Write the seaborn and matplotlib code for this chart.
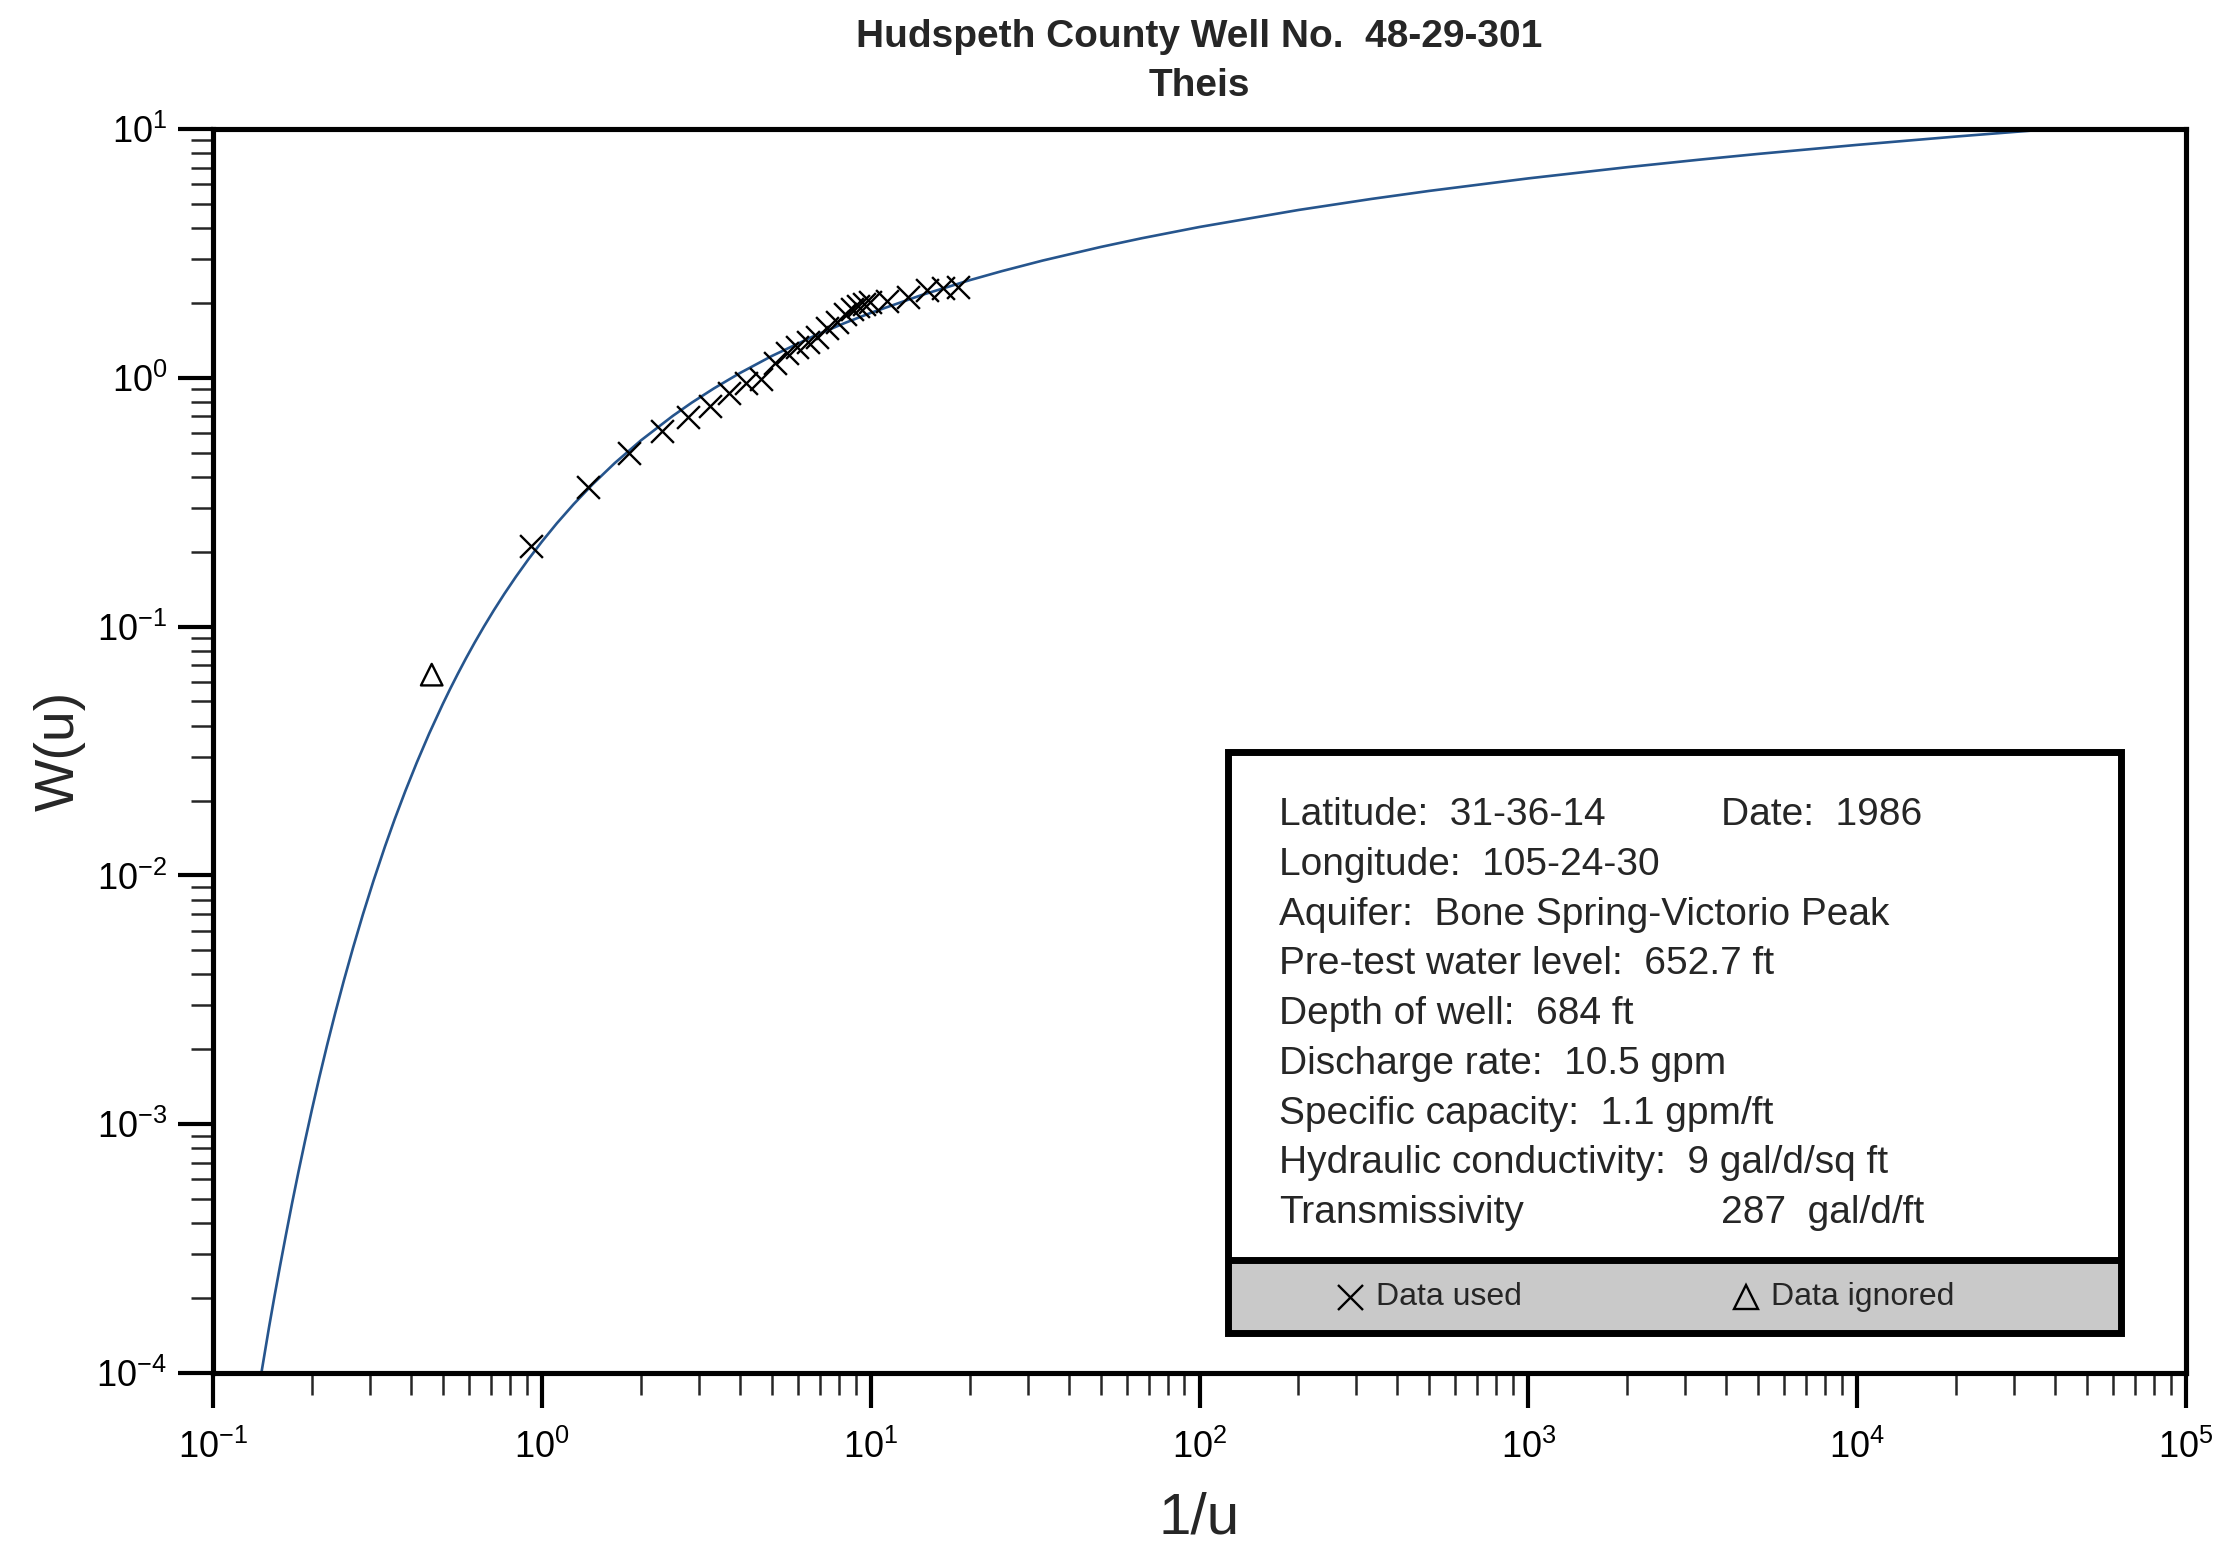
import numpy as np
import pandas as pd
import matplotlib
matplotlib.use("Agg")
import matplotlib.pyplot as plt
from matplotlib.ticker import FixedLocator, FuncFormatter, NullFormatter
from matplotlib.patches import Rectangle
import seaborn as sns

# ---- data ----
# Theis type curve (1/u, W(u))
curve_inv_u = [0.1333, 0.1379, 0.1429, 0.1481, 0.1538, 0.16, 0.1667, 0.1739, 0.1818,
               0.1905, 0.2, 0.2105, 0.2222, 0.2353, 0.25, 0.2667, 0.2857, 0.3077,
               0.3333, 0.3571, 0.3846, 0.4167, 0.4545, 0.5, 0.5263, 0.5556, 0.5882,
               0.625, 0.6667, 0.7143, 0.7692, 0.8333, 0.9091, 1.0, 1.111, 1.25,
               1.4286, 1.6667, 2.0, 2.5, 2.857, 3.333, 4.0, 5.0, 6.667, 8.333, 10.0,
               14.29, 20.0, 25.0, 33.33, 50.0, 66.67, 100.0, 200.0, 333.3, 500.0,
               1000.0, 2000.0, 3333.0, 5000.0, 10000.0, 20000.0, 33333.0, 40000.0]
curve_w = [6.58e-5, 8.715e-5, 1.155e-4, 1.532e-4, 2.034e-4, 2.705e-4, 3.601e-4,
           4.801e-4, 6.409e-4, 8.572e-4, 1.148e-3, 1.541e-3, 2.073e-3, 2.796e-3,
           3.779e-3, 5.125e-3, 6.970e-3, 9.519e-3, 1.305e-2, 1.686e-2, 2.185e-2,
           2.844e-2, 3.719e-2, 4.890e-2, 5.620e-2, 6.471e-2, 7.465e-2, 8.631e-2,
           0.10002, 0.11622, 0.13545, 0.15841, 0.18599, 0.21938, 0.26018, 0.31060,
           0.37377, 0.45438, 0.55977, 0.70238, 0.79450, 0.90568, 1.04427, 1.22265,
           1.46446, 1.65953, 1.82292, 2.15084, 2.46790, 2.68126, 2.95912, 3.35471,
           3.63743, 4.03793, 4.72610, 5.23492, 5.63939, 6.33154, 7.02418, 7.53481,
           7.94018, 8.63307, 9.32622, 9.83712, 10.01948]

used_inv_u = [0.927, 1.382, 1.842, 2.321, 2.784, 3.248, 3.710, 4.178, 4.642, 5.119,
              5.568, 5.974, 6.450, 6.871, 7.369, 7.903, 8.356, 8.779, 9.157, 9.548,
              9.958, 11.22, 12.99, 14.84, 16.61, 18.45]
used_w = [0.210, 0.365, 0.500, 0.613, 0.697, 0.772, 0.871, 0.955, 0.991, 1.149,
          1.260, 1.332, 1.395, 1.461, 1.588, 1.679, 1.807, 1.893, 1.946, 1.983,
          2.020, 2.038, 2.115, 2.256, 2.290, 2.310]

ignored_inv_u = [0.4625]
ignored_w = [0.0641]

x_decades = [-1, 0, 1, 2, 3, 4, 5]
y_decades = [-4, -3, -2, -1, 0, 1]

title_lines = ["Hudspeth County Well No.  48-29-301", "Theis"]
info_rows = [
    ("Latitude:  31-36-14", "Date:  1986"),
    ("Longitude:  105-24-30", ""),
    ("Aquifer:  Bone Spring-Victorio Peak", ""),
    ("Pre-test water level:  652.7 ft", ""),
    ("Depth of well:  684 ft", ""),
    ("Discharge rate:  10.5 gpm", ""),
    ("Specific capacity:  1.1 gpm/ft", ""),
    ("Hydraulic conductivity:  9 gal/d/sq ft", ""),
    ("Transmissivity", "287  gal/d/ft"),
]

# ---- style ----
sns.set_style("ticks")
plt.rcParams["font.family"] = ["Liberation Sans", "DejaVu Sans"]
plt.rcParams["mathtext.fontset"] = "custom"
plt.rcParams["mathtext.rm"] = "Liberation Sans"
plt.rcParams["mathtext.it"] = "Liberation Sans:italic"
plt.rcParams["mathtext.bf"] = "Liberation Sans:bold"

W, H = 2229, 1551
fig = plt.figure(figsize=(W / 100, H / 100), dpi=100)
L, R, T, B = 213, 2186, 129, 1373
ax = fig.add_axes([L / W, 1 - B / H, (R - L) / W, (B - T) / H])

curve_df = pd.DataFrame({"inv_u": curve_inv_u, "W": curve_w})
used_df = pd.DataFrame({"inv_u": used_inv_u, "W": used_w})
ign_df = pd.DataFrame({"inv_u": ignored_inv_u, "W": ignored_w})

sns.lineplot(data=curve_df, x="inv_u", y="W", ax=ax, color="#26558d", linewidth=1.9,
             sort=False, estimator=None)
sns.scatterplot(data=used_df, x="inv_u", y="W", ax=ax, marker="x", s=270,
                color="black", linewidth=1.7, zorder=3)
sns.scatterplot(data=ign_df, x="inv_u", y="W", ax=ax, marker="^", s=240,
                facecolors="none", edgecolor="black", linewidth=1.7, zorder=3)

ax.set_xscale("log")
ax.set_yscale("log")
ax.set_xlim(0.1, 1e5)
ax.set_ylim(1e-4, 10)


def major_minor(decades):
    major = [10.0 ** d for d in decades]
    minor = [m * 10.0 ** d for d in decades[:-1] for m in range(2, 10)]
    return major, minor


fmt = FuncFormatter(lambda v, p: r"$\mathregular{10^{%d}}$" % int(round(np.log10(v))))
for axis, dec in ((ax.xaxis, x_decades), (ax.yaxis, y_decades)):
    mj, mn = major_minor(dec)
    axis.set_major_locator(FixedLocator(mj))
    axis.set_minor_locator(FixedLocator(mn))
    axis.set_major_formatter(fmt)
    axis.set_minor_formatter(NullFormatter())

ax.tick_params(which="major", direction="out", length=25, width=3, labelsize=26,
               colors="black", top=False, right=False)
ax.tick_params(which="minor", direction="out", length=16, width=1.8,
               top=False, right=False)
ax.tick_params(axis="x", which="major", pad=16)
ax.tick_params(axis="y", which="major", pad=8)

for sp in ax.spines.values():
    sp.set_visible(True)
    sp.set_linewidth(3.7)
    sp.set_color("black")

ax.set_xlabel("1/u", fontsize=42, labelpad=18)
ax.set_ylabel("W(u)", fontsize=40, labelpad=8)

# title
fig.text(1199.5 / W, 1 - 37 / H, title_lines[0], ha="center", va="center",
         fontsize=28, fontweight="bold")
fig.text(1199.5 / W, 1 - 86 / H, title_lines[1], ha="center", va="center",
         fontsize=28, fontweight="bold")

# info box (axes fraction coordinates)
def ax_x(px):
    return (px - L) / (R - L)

def ax_y(py):
    return (B - py) / (B - T)

bx0, bx1, by_top, by_bot, by_band = 1228, 2121, 752, 1333, 1260
ax.add_patch(Rectangle((ax_x(bx0), ax_y(by_bot)), ax_x(bx1) - ax_x(bx0),
                       ax_y(by_band) - ax_y(by_bot), transform=ax.transAxes,
                       facecolor="#c9c9c9", edgecolor="none", zorder=4, clip_on=False))
ax.add_patch(Rectangle((ax_x(bx0), ax_y(by_band)), ax_x(bx1) - ax_x(bx0),
                       ax_y(by_top) - ax_y(by_band), transform=ax.transAxes,
                       facecolor="white", edgecolor="none", zorder=4, clip_on=False))
ax.add_patch(Rectangle((ax_x(bx0), ax_y(by_bot)), ax_x(bx1) - ax_x(bx0),
                       ax_y(by_top) - ax_y(by_bot), transform=ax.transAxes,
                       facecolor="none", edgecolor="black", linewidth=5, zorder=6,
                       clip_on=False))
ax.plot([ax_x(bx0), ax_x(bx1)], [ax_y(by_band), ax_y(by_band)], transform=ax.transAxes,
        color="black", linewidth=5, zorder=6, clip_on=False, solid_capstyle="butt")

row_y0, row_dy = 815, 49.76
for i, (left_txt, right_txt) in enumerate(info_rows):
    yy = ax_y(row_y0 + i * row_dy)
    ax.text(ax_x(1279), yy, left_txt, transform=ax.transAxes, ha="left",
            va="center", fontsize=28, zorder=7)
    if right_txt:
        ax.text(ax_x(1721), yy, right_txt, transform=ax.transAxes, ha="left",
                va="center", fontsize=28, zorder=7)

leg_y = ax_y(1297)
ax.plot([ax_x(1350)], [leg_y], transform=ax.transAxes, marker="x", markersize=18,
        markeredgewidth=1.7, color="black", linestyle="none", zorder=7, clip_on=False)
ax.text(ax_x(1376), leg_y, "Data used", transform=ax.transAxes, ha="left",
        va="center", fontsize=23, zorder=7)
ax.plot([ax_x(1746)], [leg_y], transform=ax.transAxes, marker="^", markersize=17,
        markeredgewidth=1.7, markerfacecolor="none", markeredgecolor="black",
        linestyle="none", zorder=7, clip_on=False)
ax.text(ax_x(1771), leg_y, "Data ignored", transform=ax.transAxes, ha="left",
        va="center", fontsize=23, zorder=7)

fig.savefig("out.png", dpi=100, facecolor="white")
